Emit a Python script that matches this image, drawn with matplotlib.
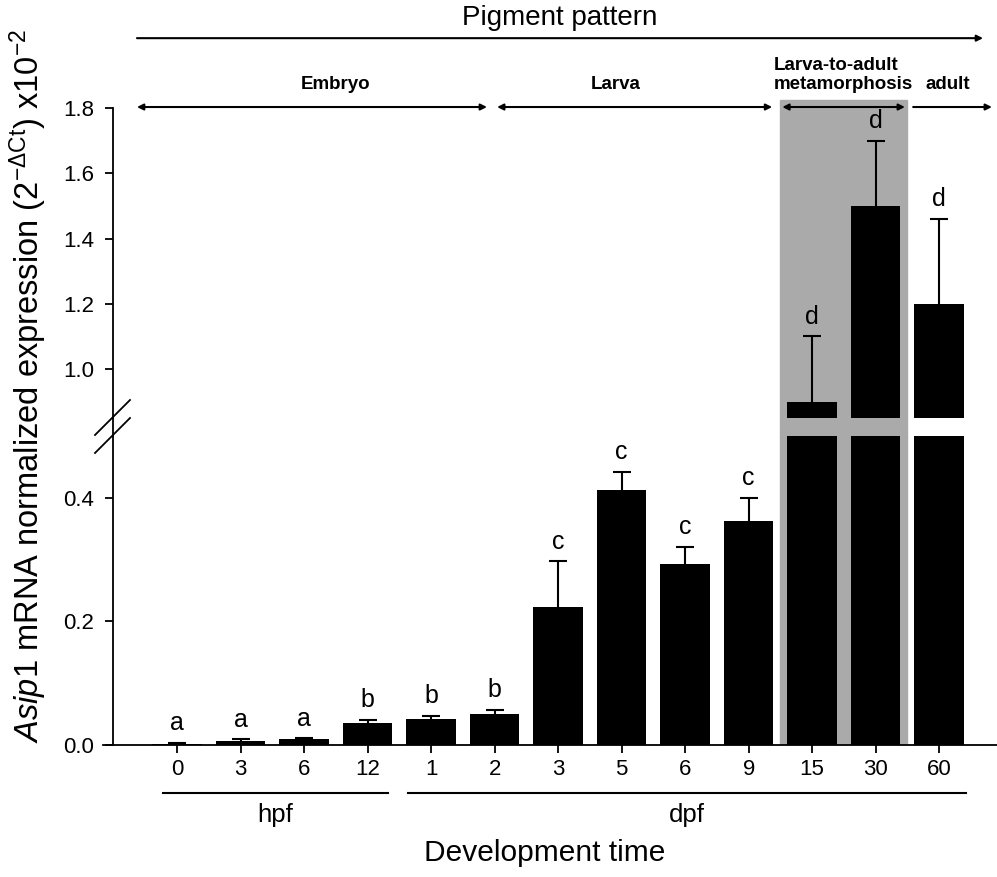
import matplotlib
matplotlib.use('Agg')
import matplotlib.pyplot as plt
import matplotlib.transforms as mtransforms
from matplotlib.lines import Line2D
import numpy as np

plt.rcParams['font.family'] = ['Liberation Sans', 'DejaVu Sans']
plt.rcParams['mathtext.fontset'] = 'custom'
plt.rcParams['mathtext.rm'] = 'Liberation Sans'
plt.rcParams['mathtext.it'] = 'Liberation Sans:italic'

# Data
tick_labels = ['0', '3', '6', '12', '1', '2', '3', '5', '6', '9', '15', '30', '60']
means = [0.002, 0.007, 0.009, 0.036, 0.042, 0.050, 0.224, 0.412, 0.293, 0.363, 0.90, 1.50, 1.20]
errors = [0.002, 0.002, 0.002, 0.005, 0.005, 0.007, 0.073, 0.030, 0.028, 0.037, 0.20, 0.20, 0.26]
letters = ['a', 'a', 'a', 'b', 'b', 'b', 'c', 'c', 'c', 'c', 'd', 'd', 'd']

# Stage spans (in bar index units): label, arrow start, arrow end, label x, arrow style
stages = [('Embryo', -0.63, 4.88, 2.50, '<|-|>'),
          ('Larva', 5.04, 9.37, 6.90, '<|-|>'),
          ('Larva-to-adult\nmetamorphosis', 9.53, 11.46, 10.49, '<|-|>'),
          ('adult', 11.59, 12.83, 12.14, '-|>')]
units = [('hpf', -0.22, 3.32), ('dpf', 3.64, 12.42)]

x = np.arange(len(means))
W, H = 997, 877
fig = plt.figure(figsize=(W / 100, H / 100), dpi=100)

left = 103 / W
width = 1 - left
ax_low = fig.add_axes([left, (H - 745) / H, width, (745 - 436) / H])
ax_up = fig.add_axes([left, (H - 418) / H, width, (418 - 108) / H])
# upper axes drawn first so the lower bars cover the shaded overflow
ax_low.set_zorder(2)
ax_up.set_zorder(1)
ax_low.patch.set_alpha(0)

xlim = (-1.165, 12.91)
gray = '#aaaaaa'
for ax in (ax_low, ax_up):
    ax.set_xlim(*xlim)
    ax.bar(x, means, width=0.78, color='black', zorder=3)
    eb = ax.errorbar(x, means, yerr=[np.zeros(len(errors)), errors], fmt='none',
                     ecolor='black', elinewidth=1.5, capsize=6.5, capthick=1.5, zorder=2)
    eb[1][0].set_visible(False)  # no cap at the bar top
    ax.spines['top'].set_visible(False)
    ax.spines['right'].set_visible(False)
    ax.spines['left'].set_position(('data', -1))
    ax.spines['left'].set_linewidth(1.3)
    ax.tick_params(axis='y', direction='out', length=6, width=1.3, labelsize=16, pad=8)

ax_low.set_ylim(0, 0.5)
ax_low.set_yticks([0.0, 0.2, 0.4])
ax_low.set_yticklabels(['0.0', '0.2', '0.4'])
ax_low.set_xticks(x)
ax_low.set_xticklabels(tick_labels)
ax_low.tick_params(axis='x', direction='out', length=6, width=1.3, labelsize=16, pad=4)
ax_low.spines['bottom'].set_linewidth(1.3)
ax_low.axvspan(9.5, 11.5, color=gray, zorder=0)

ax_up.set_ylim(0.85, 1.8)
ax_up.set_yticks([1.0, 1.2, 1.4, 1.6, 1.8])
ax_up.set_yticklabels(['1.0', '1.2', '1.4', '1.6', '1.8'])
ax_up.spines['bottom'].set_visible(False)
ax_up.set_xticks([])
ax_up.axvspan(9.5, 11.5, ymin=-0.06, ymax=1.026, color=gray, zorder=0, clip_on=False)

# significance letters
for xi, m, e, lab in zip(x, means, errors, letters):
    top = m + e
    ax = ax_low if top < 0.5 else ax_up
    ax.annotate(lab, xy=(xi, top), xytext=(0, 9), textcoords='offset points',
                ha='center', va='baseline', fontsize=18)

# y-axis break
bt = mtransforms.blended_transform_factory(ax_low.transData, fig.transFigure)
fig.add_artist(Line2D([-1, -1], [(H - 436) / H, (H - 418) / H], transform=bt,
                      color='black', lw=1.3))
for y0 in (435, 453):
    fig.add_artist(Line2D([95 / W, 130 / W], [(H - y0) / H, (H - y0 + 35) / H],
                          transform=fig.transFigure, color='black', lw=1.3))

# stage annotations above the plot
for lab, x0, x1, xl, style in stages:
    ax_up.annotate('', xy=(x1, 1.803), xytext=(x0, 1.803),
                   arrowprops=dict(arrowstyle=style, color='black', lw=1.5,
                                   mutation_scale=9, shrinkA=0, shrinkB=0),
                   annotation_clip=False)
    ax_up.text(xl, 1.845, lab, ha='center', va='bottom', fontsize=13.5,
               fontweight='bold', linespacing=1.15, multialignment='left',
               clip_on=False)

ax_up.annotate('', xy=(12.69, 2.014), xytext=(-0.63, 2.014),
               arrowprops=dict(arrowstyle='-|>', color='black', lw=1.5,
                               mutation_scale=9, shrinkA=0, shrinkB=0),
               annotation_clip=False)
ax_up.text(6.03, 2.035, 'Pigment pattern', ha='center', va='bottom', fontsize=20,
           clip_on=False)

# hpf / dpf groupings under the axis
tb = mtransforms.blended_transform_factory(ax_low.transData, ax_low.transAxes)
for lab, x0, x1 in units:
    ax_low.plot([x0, x1], [-0.155, -0.155], color='black', lw=1.5,
                transform=tb, clip_on=False)
    ax_low.text((x0 + x1) / 2, -0.225, lab, transform=tb, ha='center', va='center',
                fontsize=18.5)

fig.text(545 / W, (H - 853) / H, 'Development time', ha='center', va='center',
         fontsize=21.5)
fig.text(28 / W, (H - 386) / H,
         r'$\it{Asip1}$ mRNA normalized expression (2$^{-\Delta\mathrm{Ct}}$) x10$^{-2}$',
         rotation=90, ha='center', va='center', fontsize=23.5)

plt.savefig('out.png', dpi=100)
plt.close()
